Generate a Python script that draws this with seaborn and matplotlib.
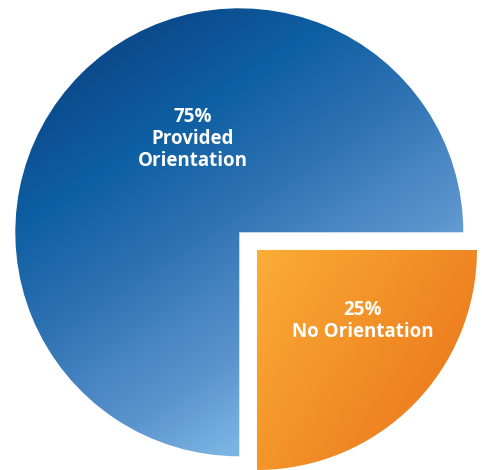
import numpy as np
import matplotlib
matplotlib.use("Agg")
import matplotlib.pyplot as plt
from matplotlib.colors import LinearSegmentedColormap
import seaborn as sns

# Survey shares
categories = ["Provided Orientation", "No Orientation"]
shares = [75, 25]
pct_labels = [f"{v}%" for v in shares]

sns.set_theme(style="white")
plt.rcParams["font.family"] = ["Open Sans", "DejaVu Sans"]

W, H = 482, 470
fig = plt.figure(figsize=(W / 100, H / 100), dpi=100)
ax = fig.add_axes([0, 0, 1, 1])

cx, cy, radius = 239.3, H - 232.3, 224.0
wedges, _ = ax.pie(
    shares,
    startangle=0,
    counterclock=True,
    center=(cx, cy),
    radius=radius,
    explode=[0, 25.0],
    wedgeprops=dict(linewidth=0, edgecolor="none"),
    frame=False,
)
wedges[1].set_radius(220.0)

ax.set_xlim(0, W)
ax.set_ylim(0, H)
ax.set_aspect("auto")
ax.axis("off")

# Gradient fills clipped to each wedge (pixel grid, y downward)
yy, xx = np.mgrid[0:H, 0:W].astype(float)

blue_cmap = LinearSegmentedColormap.from_list(
    "blue_grad",
    [(0.00, "#0b4a8c"), (0.25, "#0e5fa3"), (0.50, "#2e72b3"),
     (0.70, "#4c88c5"), (0.82, "#5c94cd"), (1.00, "#7ab4e2")],
)
proj_b = 0.55 * xx + 0.835 * yy
tb = np.clip((proj_b - 100) / 400, 0, 1)
im_b = ax.imshow(blue_cmap(tb), extent=(0, W, 0, H), origin="upper",
                 interpolation="bilinear", zorder=1)
im_b.set_clip_path(wedges[0])

orange_cmap = LinearSegmentedColormap.from_list(
    "orange_grad", [(0.0, "#fbad37"), (0.5, "#f39328"), (1.0, "#ec7a1e")]
)
proj_o = 0.85 * xx + 0.53 * yy
to = np.clip((proj_o - 350) / 250, 0, 1)
im_o = ax.imshow(orange_cmap(to), extent=(0, W, 0, H), origin="upper",
                 interpolation="bilinear", zorder=1)
im_o.set_clip_path(wedges[1])

for w in wedges:
    w.set_facecolor("none")

ax.set_xlim(0, W)
ax.set_ylim(0, H)

text_kw = dict(color="white", fontsize=13.5, fontweight="bold",
               ha="center", va="center", linespacing=1.15, zorder=3)
ax.text(193, H - 139, f"{pct_labels[0]}\nProvided\nOrientation", **text_kw)
ax.text(363, H - 321, f"{pct_labels[1]}\n{categories[1]}", **text_kw)

fig.savefig("out.png", dpi=100)
